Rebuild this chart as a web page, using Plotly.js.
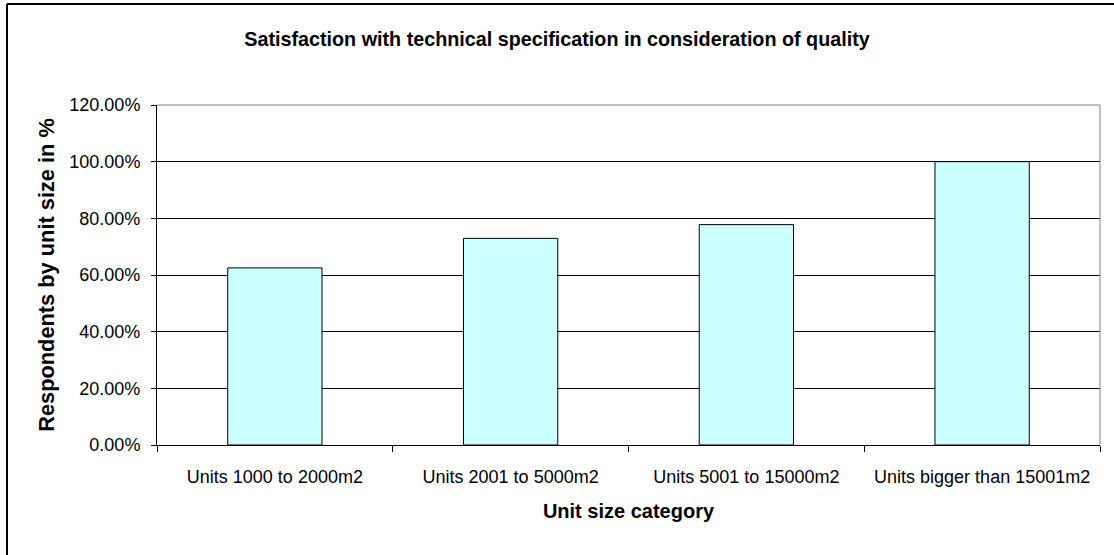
<!DOCTYPE html>
<html>
<head>
<meta charset="utf-8">
<script src="https://cdn.plot.ly/plotly-3.0.1.min.js"></script>
<style>html,body{margin:0;padding:0;background:#fff;}#chart{width:1114px;height:555px;}</style>
</head>
<body>
<div id="chart"></div>
<script>
var categories = ["Units 1000 to 2000m2", "Units 2001 to 5000m2", "Units 5001 to 15000m2", "Units bigger than 15001m2"];
var satisfaction = [0.625, 0.7292, 0.7778, 1.0];
var yTickValues = [0, 0.2, 0.4, 0.6, 0.8, 1.0, 1.2];

var W = 1114, H = 555;
var mL = 157, mR = 14, mT = 105, mB = 110;
var pw = W - mL - mR, ph = H - mT - mB;
function px(x){ return (x - mL) / pw; }
function py(y){ return (H - mB - y) / ph; }

var font = "Liberation Sans, Arial, sans-serif";

var trace = {
  type: "bar",
  x: categories,
  y: satisfaction,
  width: 0.4,
  marker: {color: "#CCFFFF", line: {color: "#000000", width: 1}},
  hoverinfo: "x+y"
};

var layout = {
  width: W, height: H,
  margin: {l: mL, r: mR, t: mT, b: mB, pad: 0},
  paper_bgcolor: "#ffffff",
  plot_bgcolor: "#ffffff",
  showlegend: false,
  font: {family: font, color: "#000000", size: 18},
  title: {
    text: "<b>Satisfaction with technical specification in consideration of quality</b>",
    font: {family: font, size: 19.75, color: "#000"},
    x: 0.5, xanchor: "center", xref: "container",
    y: 1 - 39/555, yanchor: "middle", yref: "container"
  },
  xaxis: {
    type: "category",
    showline: true, linecolor: "#000", linewidth: 1,
    ticks: "outside", ticklen: 6, tickcolor: "#000", tickwidth: 1,
    tickson: "boundaries",
    ticklabelstandoff: 15,
    showgrid: false, zeroline: false,
    tickfont: {family: font, size: 18, color: "#000"},
    title: {text: "<b>Unit size category</b>", font: {family: font, size: 20, color: "#000"}, standoff: 18},
    fixedrange: true
  },
  yaxis: {
    range: [0, 1.2],
    tickvals: yTickValues,
    tickformat: ".2%",
    showline: true, linecolor: "#000", linewidth: 1,
    ticks: "outside", ticklen: 5, tickcolor: "#000", tickwidth: 1,
    ticklabelstandoff: 7,
    showgrid: true, gridcolor: "#000", gridwidth: 1,
    zeroline: false,
    tickfont: {family: font, size: 18, color: "#000"},
    title: {text: "<b>Respondents by unit size in %</b>", font: {family: font, size: 21.8, color: "#000"}, standoff: 8},
    fixedrange: true
  },
  shapes: [
    {type: "line", xref: "paper", yref: "paper", x0: 0, x1: 1, y0: 1, y1: 1, line: {color: "#808080", width: 1}},
    {type: "line", xref: "paper", yref: "paper", x0: 1, x1: 1, y0: 0, y1: 1, line: {color: "#808080", width: 1}},
    {type: "line", xref: "paper", yref: "paper", x0: px(7), x1: px(1114), y0: py(4), y1: py(4), line: {color: "#000", width: 2}},
    {type: "line", xref: "paper", yref: "paper", x0: px(7), x1: px(7), y0: py(4), y1: py(555), line: {color: "#000", width: 2}}
  ]
};

Plotly.newPlot("chart", [trace], layout, {displayModeBar: false, staticPlot: true});
</script>
</body>
</html>
